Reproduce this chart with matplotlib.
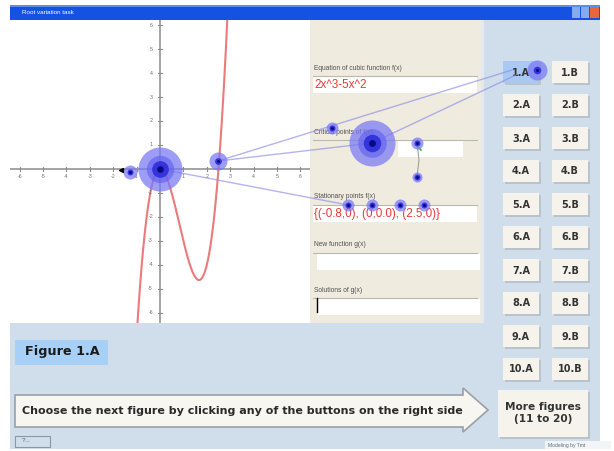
import numpy as np
import matplotlib
matplotlib.use("Agg")
import matplotlib.pyplot as plt
from matplotlib.patches import Rectangle, Polygon

plt.rcParams['font.family'] = ['Liberation Sans', 'DejaVu Sans']
BOLD_FONT = ['DejaVu Sans']

W, H = 614, 451

# ---- data ----
cubic_coeffs = [2, -5, 0, 0]            # f(x) = 2x^3 - 5x^2
curve_x_min, curve_x_max = -1.2, 3.0
x_ticks = [-6, -5, -4, -3, -2, -1, 1, 2, 3, 4, 5, 6]
y_ticks = [-6, -5, -4, -3, -2, -1, 1, 2, 3, 4, 5, 6]

graph_pts_x = [0.0, 2.47, -1.28]
graph_pts_y = [0.0, 0.33, -0.12]
graph_pts_r = [22, 9, 7]

panel_pts_x = [372, 332, 417, 417, 348, 372, 400, 424]
panel_pts_y = [143, 128, 143, 177, 205, 205, 205, 205]
panel_pts_r = [23, 6, 6, 5, 6, 6, 6, 6]

field_labels = ["Equation of cubic function f(x)", "Critical points of f(x)",
                "Stationary points f(x)", "New function g(x)", "Solutions of g(x)"]
field_values = ["2x^3-5x^2", "", "{(-0.8,0), (0,0.0), (2.5,0)}", "", ""]
field_label_y = [68, 132, 197, 245, 290]
field_box_x = [(313, 477), (398, 463), (313, 477), (317, 480), (317, 480)]

button_rows = ["1", "2", "3", "4", "5", "6", "7", "8", "9", "10"]
button_cols = ["A", "B"]
current_figure = "1.A"

title = "Root variation task"
figure_label = "Figure 1.A"
hint_text = "Choose the next figure by clicking any of the buttons on the right side"
more_text = "More figures\n(11 to 20)"

# colours
WIN_BG = '#cfdeea'
PANEL_BG = '#efebdf'
BTN_BG = '#f6f3ec'
BLUE_LINE = '#8c8ce8'

fig = plt.figure(figsize=(W / 100, H / 100), dpi=100)

# background / chrome layer in pixel coordinates
bg = fig.add_axes([0, 0, 1, 1], zorder=0)
bg.set_xlim(0, W)
bg.set_ylim(H, 0)
bg.axis('off')


def rect(ax, x0, y0, x1, y1, **kw):
    ax.add_patch(Rectangle((x0, y0), x1 - x0, y1 - y0, **kw))


rect(bg, 10, 5, 600, 449, color=WIN_BG, lw=0)
rect(bg, 10, 5, 600, 20, color='#1552e4', lw=0)
rect(bg, 10, 5, 600, 7, color='#5a8cf2', lw=0)
bg.text(22, 12.5, title, color='white', fontsize=4.5, va='center')
rect(bg, 572, 7, 580, 18, color='#86aaf0', lw=0)
rect(bg, 581, 7, 589, 18, color='#86aaf0', lw=0)
rect(bg, 590, 7, 599, 18, color='#e8663c', lw=0)

# side panel
rect(bg, 310, 20, 481, 323, color=PANEL_BG, lw=0)
rect(bg, 481, 20, 484, 323, color='#e4e9ee', lw=0)
for lbl, val, ly, (bx0, bx1) in zip(field_labels, field_values, field_label_y, field_box_x):
    bg.text(314, ly, lbl, fontsize=4.8, color='#505050', va='center')
    bg.plot([313, 477], [ly + 8, ly + 8], color='#b8b8b0', lw=0.8)
    rect(bg, bx0, ly + 9, bx1, ly + 25, color='white', lw=0)
    if val:
        bg.text(314, ly + 17.5, val, fontsize=8.4, color='#e83a3a', va='center')
bg.plot([317, 317], [298, 312], color='black', lw=1)

# figure buttons
for i, row in enumerate(button_rows):
    cy = 72 + 33 * i
    for j, col in enumerate(button_cols):
        x0 = 503 + 49 * j
        name = row + "." + col
        face = '#aac9f2' if name == current_figure else BTN_BG
        rect(bg, x0 + 1.5, cy - 9.5, x0 + 37.5, cy + 12.5, color='#b9c3cc', lw=0)
        rect(bg, x0, cy - 11, x0 + 36, cy + 11, color=face, lw=0)
        bg.text(x0 + 18, cy + 0.5, name, fontsize=7.0, fontweight='bold', family=BOLD_FONT,
                color='#333333', ha='center', va='center')

rect(bg, 500, 392, 590, 439, color='#b9c3cc', lw=0)
rect(bg, 498, 390, 588, 437, color=BTN_BG, lw=0)
bg.text(543, 413, more_text, fontsize=7.6, fontweight='bold', family=BOLD_FONT, color='#333333',
        ha='center', va='center', linespacing=1.25)

# figure label and hint arrow
rect(bg, 15, 340, 108, 365, color='#a8d0f6', lw=0)
bg.text(25, 352, figure_label, fontsize=9.2, fontweight='bold', family=BOLD_FONT,
        color='#1a1a1a', va='center')
arrow = [(15, 395), (463, 395), (463, 388), (488, 410), (463, 432), (463, 427), (15, 427)]
bg.add_patch(Polygon(arrow, closed=True, facecolor='#f8f6f0', edgecolor='#9aa0a6', lw=1.2))
bg.text(22, 411, hint_text, fontsize=8.0, fontweight='bold', family=BOLD_FONT,
        color='#2a2a2a', va='center')

rect(bg, 15, 436, 50, 447, facecolor='none', edgecolor='#8a96a2', lw=0.8)
bg.text(22, 441, "?...", fontsize=4.5, color='#4a5a70', va='center')
rect(bg, 545, 441, 611, 449, color='#f2f4f6', lw=0)
bg.text(548, 445, "Modeling by Tmt", fontsize=3.6, color='#607080', va='center')

# graph view
g = fig.add_axes([10 / W, 1 - 323 / H, 300 / W, 303 / H], zorder=1)
g.set_facecolor('white')
g.set_xlim(-6.41, 6.41)
g.set_ylim(-6.42, 6.21)
g.set_xticks([])
g.set_yticks([])
for s in g.spines.values():
    s.set_visible(False)
g.axhline(0, color='#8c8c8c', lw=1.1)
g.axvline(0, color='#8c8c8c', lw=1.1)
for t in x_ticks:
    g.plot([t, t], [-0.08, 0.08], color='#8c8c8c', lw=0.8)
    g.text(t, -0.32, str(t), fontsize=3.8, color='#707070', ha='center', va='center')
for t in y_ticks:
    g.plot([-0.08, 0.08], [t, t], color='#8c8c8c', lw=0.8)
    g.text(-0.3, t, str(t), fontsize=3.8, color='#707070', ha='right', va='center')

xs = np.linspace(curve_x_min, curve_x_max, 400)
g.plot(xs, np.polyval(cubic_coeffs, xs), color='#e86464', lw=1.5, alpha=0.85)

# overlay for points and connectors (pixel coordinates)
top = fig.add_axes([0, 0, 1, 1], zorder=3)
top.set_xlim(0, W)
top.set_ylim(H, 0)
top.axis('off')
top.patch.set_alpha(0)


def to_px(x, y):
    d = g.transData.transform((x, y))
    return top.transData.inverted().transform(d)


def dot(ax, x, y, r):
    s = lambda rr: (2 * rr * 0.72) ** 2
    ax.scatter([x], [y], s=s(r), color='#7878f4', alpha=0.72, lw=0, zorder=5)
    if r > 15:
        ax.scatter([x], [y], s=s(r * 0.62), color='#6262f0', alpha=0.65, lw=0, zorder=5)
    ax.scatter([x], [y], s=s(max(r * 0.38, 3)), color='#3434dc', lw=0, zorder=6)
    ax.scatter([x], [y], s=s(max(r * 0.15, 1.5)), color='#0a0a80', lw=0, zorder=7)


gp = [to_px(x, y) for x, y in zip(graph_pts_x, graph_pts_y)]

connectors = [
    (gp[1], (512, 70)),
    (gp[1], (panel_pts_x[0], panel_pts_y[0])),
    ((panel_pts_x[0], panel_pts_y[0]), (516, 75)),
    (gp[0], (panel_pts_x[4], panel_pts_y[4])),
]
for (x0, y0), (x1, y1) in connectors:
    top.plot([x0, x1], [y0, y1], color=BLUE_LINE, lw=1, alpha=0.65, zorder=4)

top.plot([417, 419, 417], [143, 160, 177], color='#a0a0a0', lw=0.8, zorder=4)
top.plot([419, 421], [148, 150], color='#40b060', lw=1.2, zorder=8)
top.scatter([gp[2][0] - 9], [gp[2][1] - 1.5], marker='<', s=8, color='black', zorder=8)

for (x, y), r in zip(gp, graph_pts_r):
    dot(top, x, y, r)
for x, y, r in zip(panel_pts_x, panel_pts_y, panel_pts_r):
    dot(top, x, y, r)
dot(top, 537, 70, 10)

fig.savefig("out.png", dpi=100)
